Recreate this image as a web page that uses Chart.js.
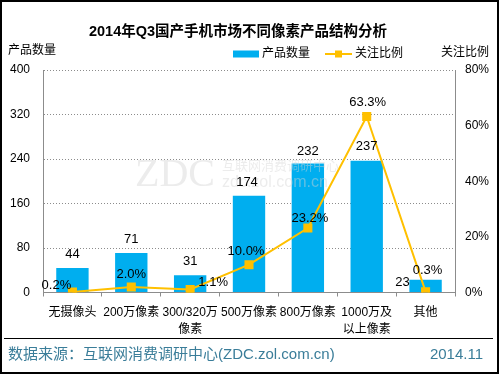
<!DOCTYPE html>
<html>
<head>
<meta charset="utf-8">
<script src="https://cdn.jsdelivr.net/npm/chart.js@4/dist/chart.umd.min.js"></script>
<style>
  html, body { margin: 0; padding: 0; background: #fff; }
  #wrap { width: 500px; height: 375px; }
</style>
</head>
<body>
<div id="wrap"><canvas id="pixelChart" width="500" height="375"></canvas></div>
<script>
// 2014 Q3 domestic phones by camera resolution
const categories = ['无摄像头', '200万像素', ['300/320万', '像素'], '500万像素', '800万像素', ['1000万及', '以上像素'], '其他'];
const productCounts = [44, 71, 31, 174, 232, 237, 23];
const attentionShare = [0.2, 2.0, 1.1, 10.0, 23.2, 63.3, 0.3];
const countTicks = [0, 80, 160, 240, 320, 400];
const shareTicks = [0, 20, 40, 60, 80];

const BAR_COLOR = '#00aeef';
const LINE_COLOR = '#ffc000';
const AXIS_COLOR = '#8c8c8c';
const FONT = '"Liberation Sans", "Noto Sans CJK SC", sans-serif';

Chart.defaults.font.family = FONT;
Chart.defaults.color = '#000';

// offsets for the value labels, one per category
const countLabelShift = [[0, -14], [0, -14], [0, -14], [-2, -13], [0, -12], [0, -14], [-23, 3]];
const shareLabelShift = [[-16, -7], [0, -13], [23, -7], [-3, -13], [2, -10], [1, -14], [2, -21]];

function text(ctx, str, x, y, font, color, align) {
  ctx.font = font;
  ctx.fillStyle = color;
  ctx.textAlign = align || 'left';
  ctx.textBaseline = 'middle';
  ctx.fillText(str, x, y);
}

const decor = {
  id: 'decor',
  beforeDraw(chart) {
    const ctx = chart.ctx;
    ctx.save();
    ctx.fillStyle = '#fff';
    ctx.fillRect(0, 0, chart.width, chart.height);
    ctx.restore();
  },
  afterDatasetsDraw(chart) {
    const ctx = chart.ctx;
    ctx.save();
    // faint watermark
    ctx.globalAlpha = 0.45;
    ctx.textBaseline = 'alphabetic';
    ctx.textAlign = 'left';
    ctx.fillStyle = '#d4d4d4';
    ctx.font = '40px "Liberation Serif", serif';
    ctx.fillText('ZDC', 135, 186);
    ctx.font = '13px "Noto Sans CJK SC", sans-serif';
    ctx.fillText('互联网消费调研中心', 222, 170);
    ctx.font = '16px "Liberation Sans", sans-serif';
    ctx.fillText('zdc.zol.com.cn', 222, 187);
    ctx.globalAlpha = 1;

    // value labels
    const bars = chart.getDatasetMeta(0).data;
    bars.forEach((el, i) => {
      const [dx, dy] = countLabelShift[i];
      text(ctx, String(productCounts[i]), el.x + dx, el.y + dy, '13px ' + FONT, '#000', 'center');
    });
    const pts = chart.getDatasetMeta(1).data;
    pts.forEach((el, i) => {
      const [dx, dy] = shareLabelShift[i];
      text(ctx, attentionShare[i].toFixed(1) + '%', el.x + dx, el.y + dy, '13px ' + FONT, '#000', 'center');
    });
    ctx.restore();
  },
  afterDraw(chart) {
    const ctx = chart.ctx;
    ctx.save();
    // title
    text(ctx, '2014年Q3国产手机市场不同像素产品结构分析', 238, 32, 'bold 14.5px ' + FONT, '#000', 'center');
    // axis titles
    text(ctx, '产品数量', 8, 51, '12px ' + FONT, '#000', 'left');
    text(ctx, '关注比例', 489, 53, '12px ' + FONT, '#000', 'right');
    // legend
    ctx.fillStyle = BAR_COLOR;
    ctx.fillRect(233, 50.5, 26, 7);
    text(ctx, '产品数量', 262, 54, '12px ' + FONT, '#000', 'left');
    ctx.strokeStyle = LINE_COLOR;
    ctx.lineWidth = 2;
    ctx.beginPath();
    ctx.moveTo(325, 54);
    ctx.lineTo(352, 54);
    ctx.stroke();
    ctx.fillStyle = LINE_COLOR;
    ctx.fillRect(335, 50.5, 7, 7);
    text(ctx, '关注比例', 355, 54, '12px ' + FONT, '#000', 'left');
    // footer
    ctx.strokeStyle = '#000';
    ctx.lineWidth = 1;
    ctx.beginPath();
    ctx.moveTo(4, 338.5);
    ctx.lineTo(493, 338.5);
    ctx.stroke();
    text(ctx, '数据来源：互联网消费调研中心(ZDC.zol.com.cn)', 8, 355, '15px ' + FONT, '#3a7d99', 'left');
    text(ctx, '2014.11', 483, 355, '15px ' + FONT, '#3a7d99', 'right');
    // frame
    ctx.lineWidth = 2;
    ctx.strokeRect(1, 1, 497, 372);
    ctx.restore();
  }
};

const ctx = document.getElementById('pixelChart').getContext('2d');
new Chart(ctx, {
  type: 'bar',
  data: {
    labels: categories,
    datasets: [
      {
        label: '产品数量',
        data: productCounts,
        backgroundColor: BAR_COLOR,
        barPercentage: 0.55,
        categoryPercentage: 1,
        yAxisID: 'y',
        order: 2
      },
      {
        type: 'line',
        label: '关注比例',
        data: attentionShare,
        borderColor: LINE_COLOR,
        backgroundColor: LINE_COLOR,
        borderWidth: 2,
        pointStyle: 'rect',
        pointRadius: 5,
        pointHoverRadius: 5,
        tension: 0,
        yAxisID: 'y1',
        order: 1
      }
    ]
  },
  options: {
    responsive: false,
    animation: false,
    devicePixelRatio: 1,
    layout: { padding: { top: 70, left: 0, right: 0, bottom: 0 } },
    plugins: { legend: { display: false }, title: { display: false }, tooltip: { enabled: false } },
    scales: {
      x: {
        offset: true,
        afterFit(scale) { scale.height = 82.5; },
        grid: { offset: true, drawOnChartArea: false, drawTicks: true, tickLength: 4, color: AXIS_COLOR },
        border: { color: AXIS_COLOR, width: 1 },
        ticks: { autoSkip: false, maxRotation: 0, padding: 8, font: { size: 12, lineHeight: 1.4 }, color: '#000' }
      },
      y: {
        position: 'left',
        min: countTicks[0],
        max: countTicks[countTicks.length - 1],
        afterFit(scale) { scale.width = 43; },
        ticks: { stepSize: countTicks[1] - countTicks[0], padding: 13, font: { size: 12 }, color: '#000' },
        grid: { color: AXIS_COLOR, drawTicks: false },
        border: { color: AXIS_COLOR, width: 1, dash: [1, 2] }
      },
      y1: {
        position: 'right',
        min: shareTicks[0],
        max: shareTicks[shareTicks.length - 1],
        afterFit(scale) { scale.width = 45; },
        ticks: { stepSize: shareTicks[1] - shareTicks[0], padding: 10, font: { size: 12 }, color: '#000', callback: v => v + '%' },
        grid: { drawOnChartArea: false, drawTicks: false },
        border: { color: AXIS_COLOR, width: 1 }
      }
    }
  },
  plugins: [decor]
});
</script>
</body>
</html>
